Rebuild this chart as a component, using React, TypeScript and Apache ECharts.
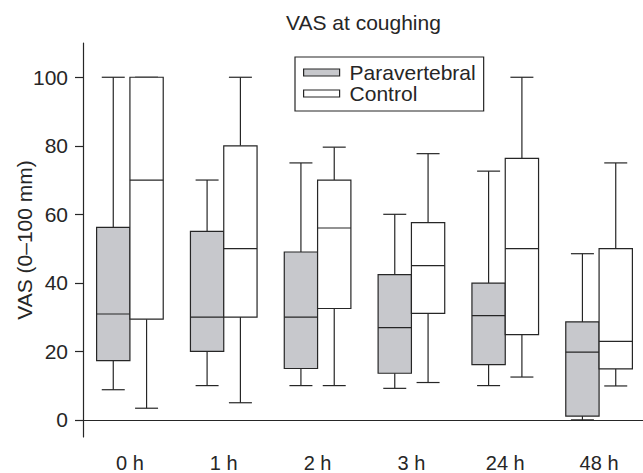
import React, { useEffect, useRef } from "react";
import * as echarts from "echarts";

const categories = ["0 h", "1 h", "2 h", "3 h", "24 h", "48 h"];
// [low whisker, Q1, median, Q3, high whisker]
const paravertebral = [
  [8.8, 17.3, 30.9, 56.2, 100],
  [10, 20, 30, 55, 70],
  [10, 15, 30, 49, 75],
  [9.2, 13.6, 26.9, 42.4, 60],
  [10, 16.1, 30.4, 39.9, 72.6],
  [0, 1.1, 19.8, 28.6, 48.5],
];
const control = [
  [3.4, 29.4, 70, 100, 100],
  [5, 30, 50, 80, 100],
  [10, 32.5, 56, 70, 79.6],
  [10.9, 31.1, 45, 57.6, 77.7],
  [12.5, 24.9, 50, 76.3, 100],
  [9.9, 14.9, 22.9, 50, 75],
];
const yTicks = [0, 20, 40, 60, 80, 100];

const FONT = "'Liberation Sans', Arial, Helvetica, sans-serif";
const INK = "#262626";
const GREY = "#c7c8cc";

function makeRender(side: number, fill: string) {
  return (params: any, api: any) => {
    const cat = api.value(0);
    const center = api.coord([cat, 0])[0];
    const band = api.size([1, 0])[0];
    const w = band * 0.355;
    const xL = side < 0 ? center - w : center;
    const xR = xL + w;
    const xm = (xL + xR) / 2;
    const cap = band * 0.245;
    const yLow = api.coord([cat, api.value(1)])[1];
    const yQ1 = api.coord([cat, api.value(2)])[1];
    const yMed = api.coord([cat, api.value(3)])[1];
    const yQ3 = api.coord([cat, api.value(4)])[1];
    const yHigh = api.coord([cat, api.value(5)])[1];
    const ls = { stroke: INK, lineWidth: 1.2, fill: "none" };
    return {
      type: "group",
      children: [
        { type: "line", shape: { x1: xm, y1: yHigh, x2: xm, y2: yQ3 }, style: ls },
        { type: "line", shape: { x1: xm, y1: yLow, x2: xm, y2: yQ1 }, style: ls },
        { type: "line", shape: { x1: xm - cap / 2, y1: yHigh, x2: xm + cap / 2, y2: yHigh }, style: ls },
        { type: "line", shape: { x1: xm - cap / 2, y1: yLow, x2: xm + cap / 2, y2: yLow }, style: ls },
        {
          type: "rect",
          shape: { x: xL, y: yQ3, width: w, height: yQ1 - yQ3 },
          style: { fill, stroke: INK, lineWidth: 1.2 },
        },
        { type: "line", shape: { x1: xL, y1: yMed, x2: xR, y2: yMed }, style: ls },
      ],
    };
  };
}

export default function App() {
  const ref = useRef<HTMLDivElement>(null);
  useEffect(() => {
    if (!ref.current) return;
    const chart = echarts.init(ref.current, null, { renderer: "svg" });
    const toData = (arr: number[][]) => arr.map((d, i) => [i, ...d]);
    chart.setOption({
      animation: false,
      backgroundColor: "#ffffff",
      textStyle: { fontFamily: FONT, color: INK },
      title: {
        text: "VAS at coughing",
        left: 286,
        top: 12,
        padding: 0,
        textStyle: { fontFamily: FONT, fontSize: 21, fontWeight: "normal", color: INK },
      },
      legend: {
        orient: "vertical",
        left: 295,
        top: 57,
        padding: [5, 8, 7, 8],
        itemGap: 0,
        itemWidth: 36,
        itemHeight: 7,
        borderColor: INK,
        borderWidth: 1.2,
        textStyle: { fontFamily: FONT, fontSize: 21, color: INK, lineHeight: 20, padding: [0, 0, 0, 5] },
        data: [
          { name: "Paravertebral", icon: "rect", itemStyle: { color: GREY, borderColor: INK, borderWidth: 1.2 } },
          { name: "Control", icon: "rect", itemStyle: { color: "#ffffff", borderColor: INK, borderWidth: 1.2 } },
        ],
      },
      grid: { left: 83, right: -3, top: 43, bottom: 36, containLabel: false, outerBoundsMode: "none" },
      xAxis: {
        type: "category",
        data: categories,
        boundaryGap: true,
        axisLine: { lineStyle: { color: INK, width: 1.2 } },
        axisTick: { alignWithLabel: true, length: 7, lineStyle: { color: INK, width: 1.2 } },
        axisLabel: { fontFamily: FONT, fontSize: 20, lineHeight: 16, color: INK, margin: 17.5 },
        splitLine: { show: false },
      },
      yAxis: {
        type: "value",
        min: -5,
        max: 110,
        name: "VAS (0\u2013100 mm)",
        nameLocation: "middle",
        nameGap: 48,
        nameMoveOverlap: false,
        nameTextStyle: { fontFamily: FONT, fontSize: 21, color: INK },
        axisLine: { show: true, lineStyle: { color: INK, width: 1.2 } },
        axisTick: { show: true, length: 8, customValues: yTicks, lineStyle: { color: INK, width: 1.2 } },
        axisLabel: { fontFamily: FONT, fontSize: 21, color: INK, margin: 15, customValues: yTicks },
        splitLine: { show: false },
      },
      series: [
        {
          name: "Paravertebral",
          type: "custom",
          renderItem: makeRender(-1, GREY),
          encode: { x: 0, y: [1, 2, 3, 4, 5] },
          itemStyle: { color: GREY },
          data: toData(paravertebral),
        },
        {
          name: "Control",
          type: "custom",
          renderItem: makeRender(1, "#ffffff"),
          encode: { x: 0, y: [1, 2, 3, 4, 5] },
          itemStyle: { color: "#ffffff" },
          data: toData(control),
        },
      ],
    });
    return () => chart.dispose();
  }, []);
  return (
    <div
      ref={ref}
      style={{ position: "fixed", left: 0, top: 0, width: 643, height: 473, background: "#fff" }}
    />
  );
}
